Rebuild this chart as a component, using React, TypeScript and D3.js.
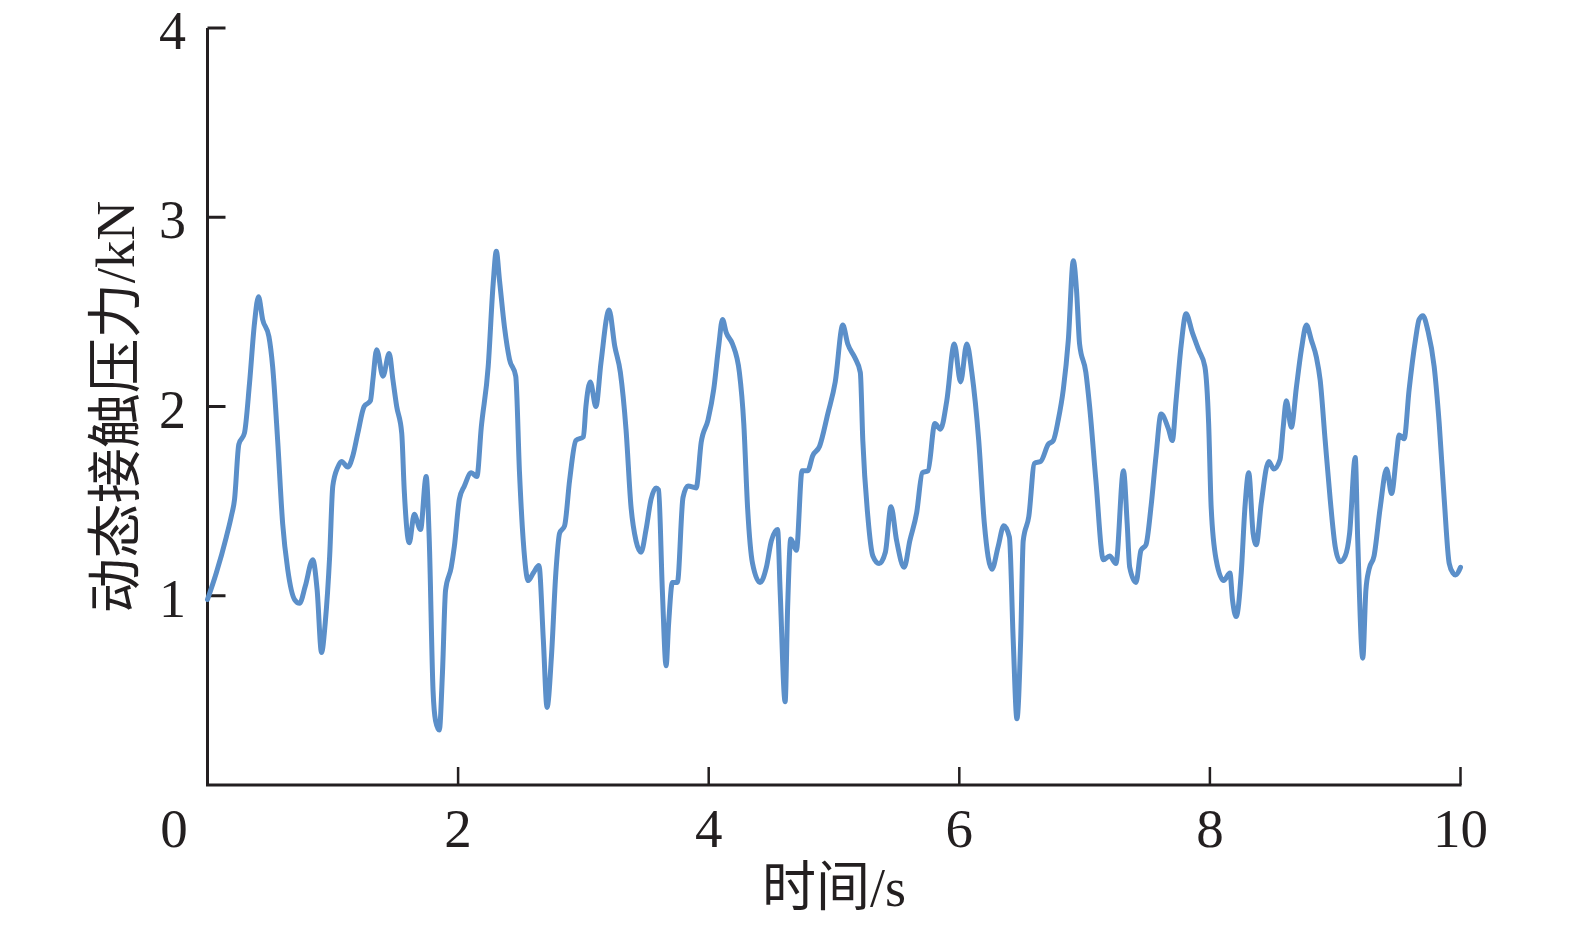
import React from "react";
import * as d3 from "d3";

const timeS: number[] = [
  0, 0.07, 0.15, 0.19, 0.216, 0.25, 0.295, 0.335, 0.375, 0.407, 0.44, 0.49, 0.52, 0.56, 0.6, 0.64, 0.695, 0.735, 0.78, 0.84,
  0.875, 0.91, 0.94, 0.975, 1.0, 1.04, 1.07, 1.12, 1.16, 1.2, 1.25, 1.3, 1.32, 1.35, 1.4, 1.45, 1.48, 1.51, 1.55, 1.57,
  1.61, 1.65, 1.7, 1.745, 1.77, 1.8, 1.82, 1.85, 1.875, 1.9, 1.945, 1.97, 2.01, 2.05, 2.105, 2.15, 2.185, 2.24, 2.28, 2.305,
  2.33, 2.37, 2.41, 2.46, 2.49, 2.52, 2.56, 2.6, 2.645, 2.68, 2.71, 2.745, 2.78, 2.81, 2.85, 2.89, 2.94, 3.0, 3.02, 3.055,
  3.1, 3.14, 3.205, 3.25, 3.295, 3.34, 3.38, 3.42, 3.46, 3.5, 3.54, 3.58, 3.6, 3.63, 3.66, 3.68, 3.71, 3.75, 3.795, 3.835,
  3.9, 3.94, 3.995, 4.04, 4.08, 4.11, 4.14, 4.19, 4.245, 4.28, 4.31, 4.35, 4.41, 4.46, 4.5, 4.55, 4.57, 4.61, 4.63, 4.655,
  4.7, 4.745, 4.79, 4.83, 4.885, 4.95, 5.01, 5.07, 5.11, 5.165, 5.21, 5.23, 5.27, 5.31, 5.36, 5.41, 5.455, 5.5, 5.56, 5.605,
  5.66, 5.705, 5.75, 5.805, 5.85, 5.9, 5.96, 6.01, 6.06, 6.1, 6.155, 6.2, 6.26, 6.31, 6.355, 6.4, 6.43, 6.46, 6.49, 6.51,
  6.555, 6.6, 6.65, 6.71, 6.75, 6.79, 6.83, 6.87, 6.91, 6.935, 6.96, 7.01, 7.04, 7.09, 7.15, 7.2, 7.25, 7.31, 7.34, 7.36,
  7.41, 7.45, 7.49, 7.53, 7.57, 7.61, 7.67, 7.7, 7.73, 7.77, 7.81, 7.86, 7.91, 7.96, 7.99, 8.01, 8.05, 8.11, 8.16, 8.18,
  8.21, 8.25, 8.28, 8.31, 8.345, 8.37, 8.41, 8.47, 8.51, 8.56, 8.585, 8.61, 8.65, 8.69, 8.73, 8.77, 8.81, 8.85, 8.88, 8.92,
  8.96, 9.0, 9.04, 9.08, 9.115, 9.16, 9.18, 9.22, 9.245, 9.27, 9.31, 9.36, 9.41, 9.45, 9.49, 9.51, 9.55, 9.59, 9.64, 9.67,
  9.7, 9.74, 9.79, 9.83, 9.87, 9.91, 9.94, 9.96, 10.0,
];

const forceKN: number[] = [
  0.98, 1.12, 1.31, 1.42, 1.51, 1.8, 1.86, 2.12, 2.44, 2.58, 2.46, 2.37, 2.21, 1.82, 1.38, 1.14, 0.98, 0.96, 1.05, 1.19,
  1.03, 0.7, 0.86, 1.21, 1.58, 1.68, 1.71, 1.68, 1.74, 1.86, 2.0, 2.03, 2.14, 2.3, 2.16, 2.28, 2.14, 2.0, 1.86, 1.56,
  1.28, 1.43, 1.35, 1.63, 1.29, 0.5, 0.34, 0.29, 0.59, 1.03, 1.15, 1.26, 1.51, 1.58, 1.65, 1.63, 1.89, 2.21, 2.65, 2.82,
  2.67, 2.42, 2.25, 2.16, 1.65, 1.29, 1.08, 1.12, 1.16, 0.77, 0.41, 0.68, 1.12, 1.33, 1.37, 1.61, 1.82, 1.84, 2.0, 2.13,
  2.0, 2.23, 2.51, 2.32, 2.18, 1.88, 1.47, 1.29, 1.23, 1.35, 1.51, 1.57, 1.56, 1.03, 0.63, 0.85, 1.07, 1.07, 1.52, 1.58,
  1.57, 1.81, 1.93, 2.09, 2.32, 2.46, 2.39, 2.33, 2.18, 1.91, 1.47, 1.17, 1.07, 1.15, 1.29, 1.35, 1.03, 0.44, 0.94, 1.3,
  1.24, 1.66, 1.66, 1.74, 1.79, 1.96, 2.13, 2.43, 2.33, 2.26, 2.18, 1.82, 1.42, 1.21, 1.17, 1.23, 1.47, 1.29, 1.15, 1.29,
  1.44, 1.65, 1.66, 1.91, 1.88, 2.03, 2.33, 2.13, 2.33, 2.18, 1.82, 1.38, 1.14, 1.26, 1.37, 1.31, 0.77, 0.35, 0.77, 1.29,
  1.42, 1.7, 1.71, 1.8, 1.82, 1.93, 2.09, 2.35, 2.77, 2.62, 2.33, 2.18, 2.0, 1.61, 1.19, 1.21, 1.17, 1.66, 1.38, 1.15,
  1.07, 1.24, 1.27, 1.47, 1.74, 1.96, 1.88, 1.82, 2.03, 2.32, 2.49, 2.39, 2.3, 2.21, 1.91, 1.47, 1.19, 1.08, 1.12, 0.98,
  0.89, 1.12, 1.47, 1.65, 1.33, 1.27, 1.49, 1.71, 1.67, 1.72, 1.89, 2.03, 1.89, 2.1, 2.3, 2.43, 2.35, 2.26, 2.14, 1.82,
  1.51, 1.26, 1.18, 1.21, 1.33, 1.73, 1.29, 0.67, 1.03, 1.14, 1.21, 1.47, 1.67, 1.54, 1.75, 1.85, 1.83, 2.09, 2.35, 2.46,
  2.48, 2.4, 2.21, 1.91, 1.51, 1.17, 1.12, 1.11, 1.15,
];

const xTicks: number[] = [2, 4, 6, 8, 10];
const xTickLabels: string[] = ["0", "2", "4", "6", "8", "10"];
const yTicks: number[] = [1, 2, 3, 4];

const xTitle = "时间/s";
const yTitle = "动态接触压力/kN";

export default function App() {
  const W = 1575;
  const H = 929;
  const x0 = 207.5;
  const x1 = 1460.5;
  const yBase = 785;
  const yTop = 28;
  const x = d3.scaleLinear().domain([0, 10]).range([x0, x1]);
  const y = d3.scaleLinear().domain([0, 4]).range([yBase, yTop]);
  const data = timeS.map((t, i) => [t, forceKN[i]] as [number, number]);
  const line = d3
    .line<[number, number]>()
    .x((d) => x(d[0]))
    .y((d) => y(d[1]))
    .curve(d3.curveMonotoneX);
  const font = "'Liberation Serif', 'Times New Roman', 'Noto Sans CJK SC', serif";
  const axisColor = "#231f20";
  const tickLen = 18;
  const fs = 54;

  return (
    <svg
      width={W}
      height={H}
      style={{ position: "absolute", left: 0, top: 0, background: "#fff" }}
      fontFamily={font}
    >
      <rect x={0} y={0} width={W} height={H} fill="#fff" />
      <line x1={x0} y1={yTop} x2={x0} y2={yBase} stroke={axisColor} strokeWidth={3} />
      <line x1={x0 - 1.5} y1={yBase} x2={x1 + 1} y2={yBase} stroke={axisColor} strokeWidth={3} />
      {yTicks.map((v) => (
        <line key={"yt" + v} x1={x0} x2={x0 + tickLen} y1={y(v)} y2={y(v)} stroke={axisColor} strokeWidth={3} />
      ))}
      {xTicks.map((v) => (
        <line key={"xt" + v} x1={x(v)} x2={x(v)} y1={yBase} y2={yBase - tickLen} stroke={axisColor} strokeWidth={2.5} />
      ))}
      {yTicks.map((v) => (
        <text key={"yl" + v} x={186} y={y(v) + 21} fontSize={fs} textAnchor="end" fill="#231f20">
          {String(v)}
        </text>
      ))}
      {xTickLabels.map((s, i) => (
        <text
          key={"xl" + s}
          x={i === 0 ? 174 : x(+s)}
          y={847}
          fontSize={55}
          textAnchor="middle"
          fill="#231f20"
        >
          {s}
        </text>
      ))}
      <text x={834} y={906} fontSize={54} textAnchor="middle" fill="#231f20">
        {xTitle}
      </text>
      <text
        x={0}
        y={0}
        fontSize={55}
        textAnchor="middle"
        fill="#231f20"
        transform={`translate(134,407) rotate(-90)`}
      >
        {yTitle}
      </text>
      <path
        d={line(data) || ""}
        fill="none"
        stroke="#5b8fc9"
        strokeWidth={5}
        strokeLinejoin="round"
        strokeLinecap="round"
      />
    </svg>
  );
}
